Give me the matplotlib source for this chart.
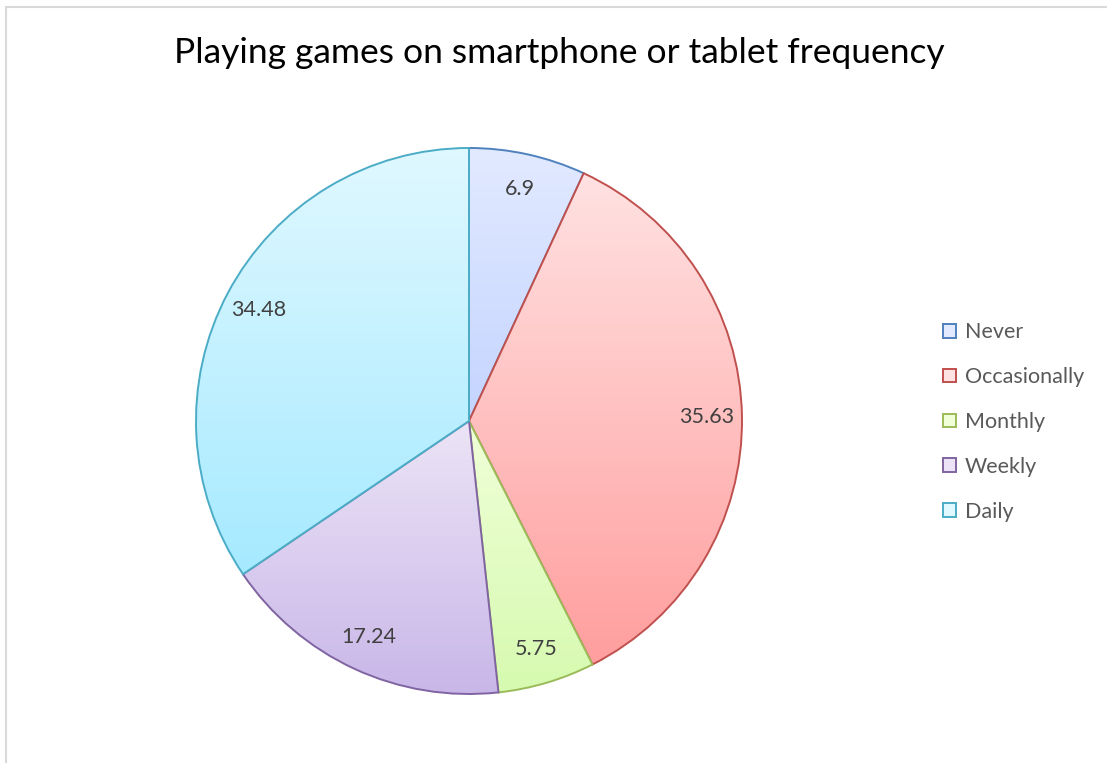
import matplotlib
matplotlib.use("Agg")
import matplotlib.pyplot as plt
import numpy as np
from matplotlib.patches import Patch, Rectangle

# data
categories = ["Never", "Occasionally", "Monthly", "Weekly", "Daily"]
values = [6.9, 35.63, 5.75, 17.24, 34.48]
value_labels = ["6.9", "35.63", "5.75", "17.24", "34.48"]

# style: (top colour, bottom colour, edge colour)
grad_top = ["#e2eaff", "#ffe2e2", "#f0ffd8", "#ece4f6", "#e0f8ff"]
grad_bot = ["#c4d4ff", "#ff9e9e", "#d6fab0", "#c8b6e8", "#a6eaff"]
edges = ["#4f81bd", "#c0504d", "#9bbb59", "#8064a2", "#4bacc6"]

plt.rcParams["font.family"] = ["Lato", "DejaVu Sans"]

W, H = 1107, 763
fig = plt.figure(figsize=(W / 100, H / 100), dpi=100)

# chart frame (light grey border, cropped on the right/bottom)
fig.patches.append(Rectangle((6 / W, -0.1), 1.2, 1 - 7 / H + 0.1, transform=fig.transFigure,
                             fill=False, edgecolor="#d9d9d9", lw=1.5))

cx, cy, r = 469, 421, 273
ax = fig.add_axes([(cx - r) / W, (H - cy - r) / H, 2 * r / W, 2 * r / H])
ax.set_xlim(-1, 1)
ax.set_ylim(-1, 1)
ax.set_aspect("equal")
ax.axis("off")

wedges, _ = ax.pie(values, startangle=90, counterclock=False, radius=1,
                   wedgeprops=dict(linewidth=1.4))

for i, w in enumerate(wedges):
    w.set_facecolor("none")
    w.set_edgecolor(edges[i])
    w.set_zorder(3 + i)
    # vertical gradient fill over each slice's bounding box
    verts = w.get_path().vertices
    y0, y1 = verts[:, 1].min(), verts[:, 1].max()
    x0, x1 = verts[:, 0].min(), verts[:, 0].max()
    t = np.linspace(0, 1, 256)[:, None]
    top = np.array(matplotlib.colors.to_rgb(grad_top[i]))
    bot = np.array(matplotlib.colors.to_rgb(grad_bot[i]))
    img = (top * (1 - t) + bot * t)[:, None, :]
    im = ax.imshow(img, extent=[x0, x1, y0, y1], origin="upper", aspect="auto",
                   zorder=2 + i, interpolation="bilinear")
    im.set_clip_path(w)

# data labels
total = sum(values)
start = 90.0
for i, v in enumerate(values):
    mid = np.deg2rad(start - v / total * 360 / 2)
    start -= v / total * 360
    d = 0.87
    ax.text(d * np.cos(mid), d * np.sin(mid), value_labels[i], ha="center", va="center",
            fontsize=15.5, color="#404040", zorder=20)

ax.set_xlim(-1, 1)
ax.set_ylim(-1, 1)

fig.text(559 / W, 1 - 63 / H, "Playing games on smartphone or tablet frequency",
         ha="center", va="baseline", fontsize=25.5, color="black")

handles = [Patch(facecolor=grad_top[i], edgecolor=edges[i], lw=1.4) for i in range(len(categories))]
fig.legend(handles, categories, loc="center left", bbox_to_anchor=(943 / W, 1 - 422 / H),
           frameon=False, fontsize=15.5, labelcolor="#595959", handlelength=0.6,
           handleheight=0.6, handletextpad=0.4, labelspacing=1.15, borderpad=0,
           borderaxespad=0)

fig.savefig("out.png", dpi=100)
